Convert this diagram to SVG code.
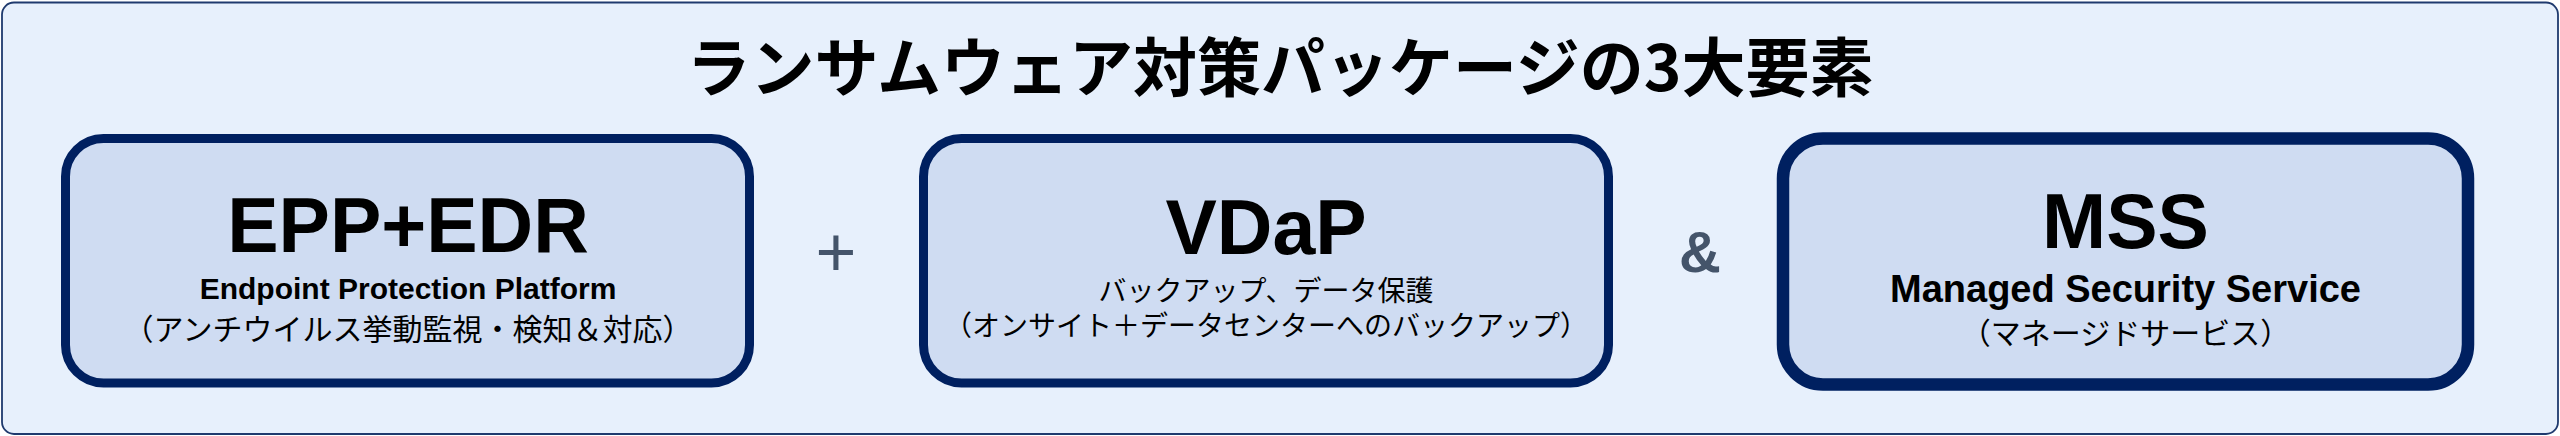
<svg xmlns="http://www.w3.org/2000/svg" width="2560" height="436" viewBox="0 0 2560 436">
  <style>
    .frame { fill: #e7f0fc; stroke: #1f3a6e; stroke-width: 1.8; }
    .box { fill: #cfdcf2; stroke: #002060; }
    .title { font-family: "Noto Sans CJK JP", "Liberation Sans", sans-serif; font-weight: 700; font-size: 64px; fill: #000; }
    .big { font-family: "Liberation Sans", "Noto Sans CJK JP", sans-serif; font-weight: 700; font-size: 77px; fill: #000; }
    .en { font-family: "Liberation Sans", "Noto Sans CJK JP", sans-serif; font-weight: 700; fill: #000; }
    .jp { font-family: "Liberation Sans", "Noto Sans CJK JP", sans-serif; font-weight: 400; fill: #000; }
    .op { font-family: "Liberation Sans", "Noto Sans CJK JP", sans-serif; fill: #44546a; }
    text { text-anchor: middle; }
  </style>
  <rect class="frame" x="2" y="2.5" width="2556" height="431.5" rx="12" ry="12"/>
  <g id="title">
    <text class="title" x="1280" y="91">ランサムウェア対策パッケージの3大要素</text>
  </g>
  <g id="epp-edr">
    <rect class="box" x="65.5" y="138.5" width="684" height="244.5" rx="38" ry="38" stroke-width="9"/>
    <text class="big" x="408" y="252">EPP+EDR</text>
    <text class="en" x="408" y="299" font-size="30">Endpoint Protection Platform</text>
    <text class="jp" x="408" y="340" font-size="30">（アンチウイルス挙動監視・検知＆対応）</text>
  </g>
  <g id="vdap">
    <rect class="box" x="923.5" y="138.5" width="685" height="244.5" rx="38" ry="38" stroke-width="9"/>
    <text class="big" x="1266" y="254">VDaP</text>
    <text class="jp" x="1266" y="301" font-size="28">バックアップ、データ保護</text>
    <text class="jp" x="1266" y="336" font-size="28">（オンサイト＋データセンターへのバックアップ）</text>
  </g>
  <g id="mss">
    <rect class="box" x="1783" y="138.5" width="685" height="246" rx="40" ry="40" stroke-width="12.5"/>
    <text class="big" x="2125.5" y="248">MSS</text>
    <text class="en" x="2125.5" y="302" font-size="38">Managed Security Service</text>
    <text class="jp" x="2125.5" y="344" font-size="30">（マネージドサービス）</text>
  </g>
  <g id="connectors">
    <text class="op" x="836" y="276" font-size="70" font-weight="400">+</text>
    <text class="op" x="1700" y="272" font-size="58" font-weight="700">&amp;</text>
  </g>
</svg>
